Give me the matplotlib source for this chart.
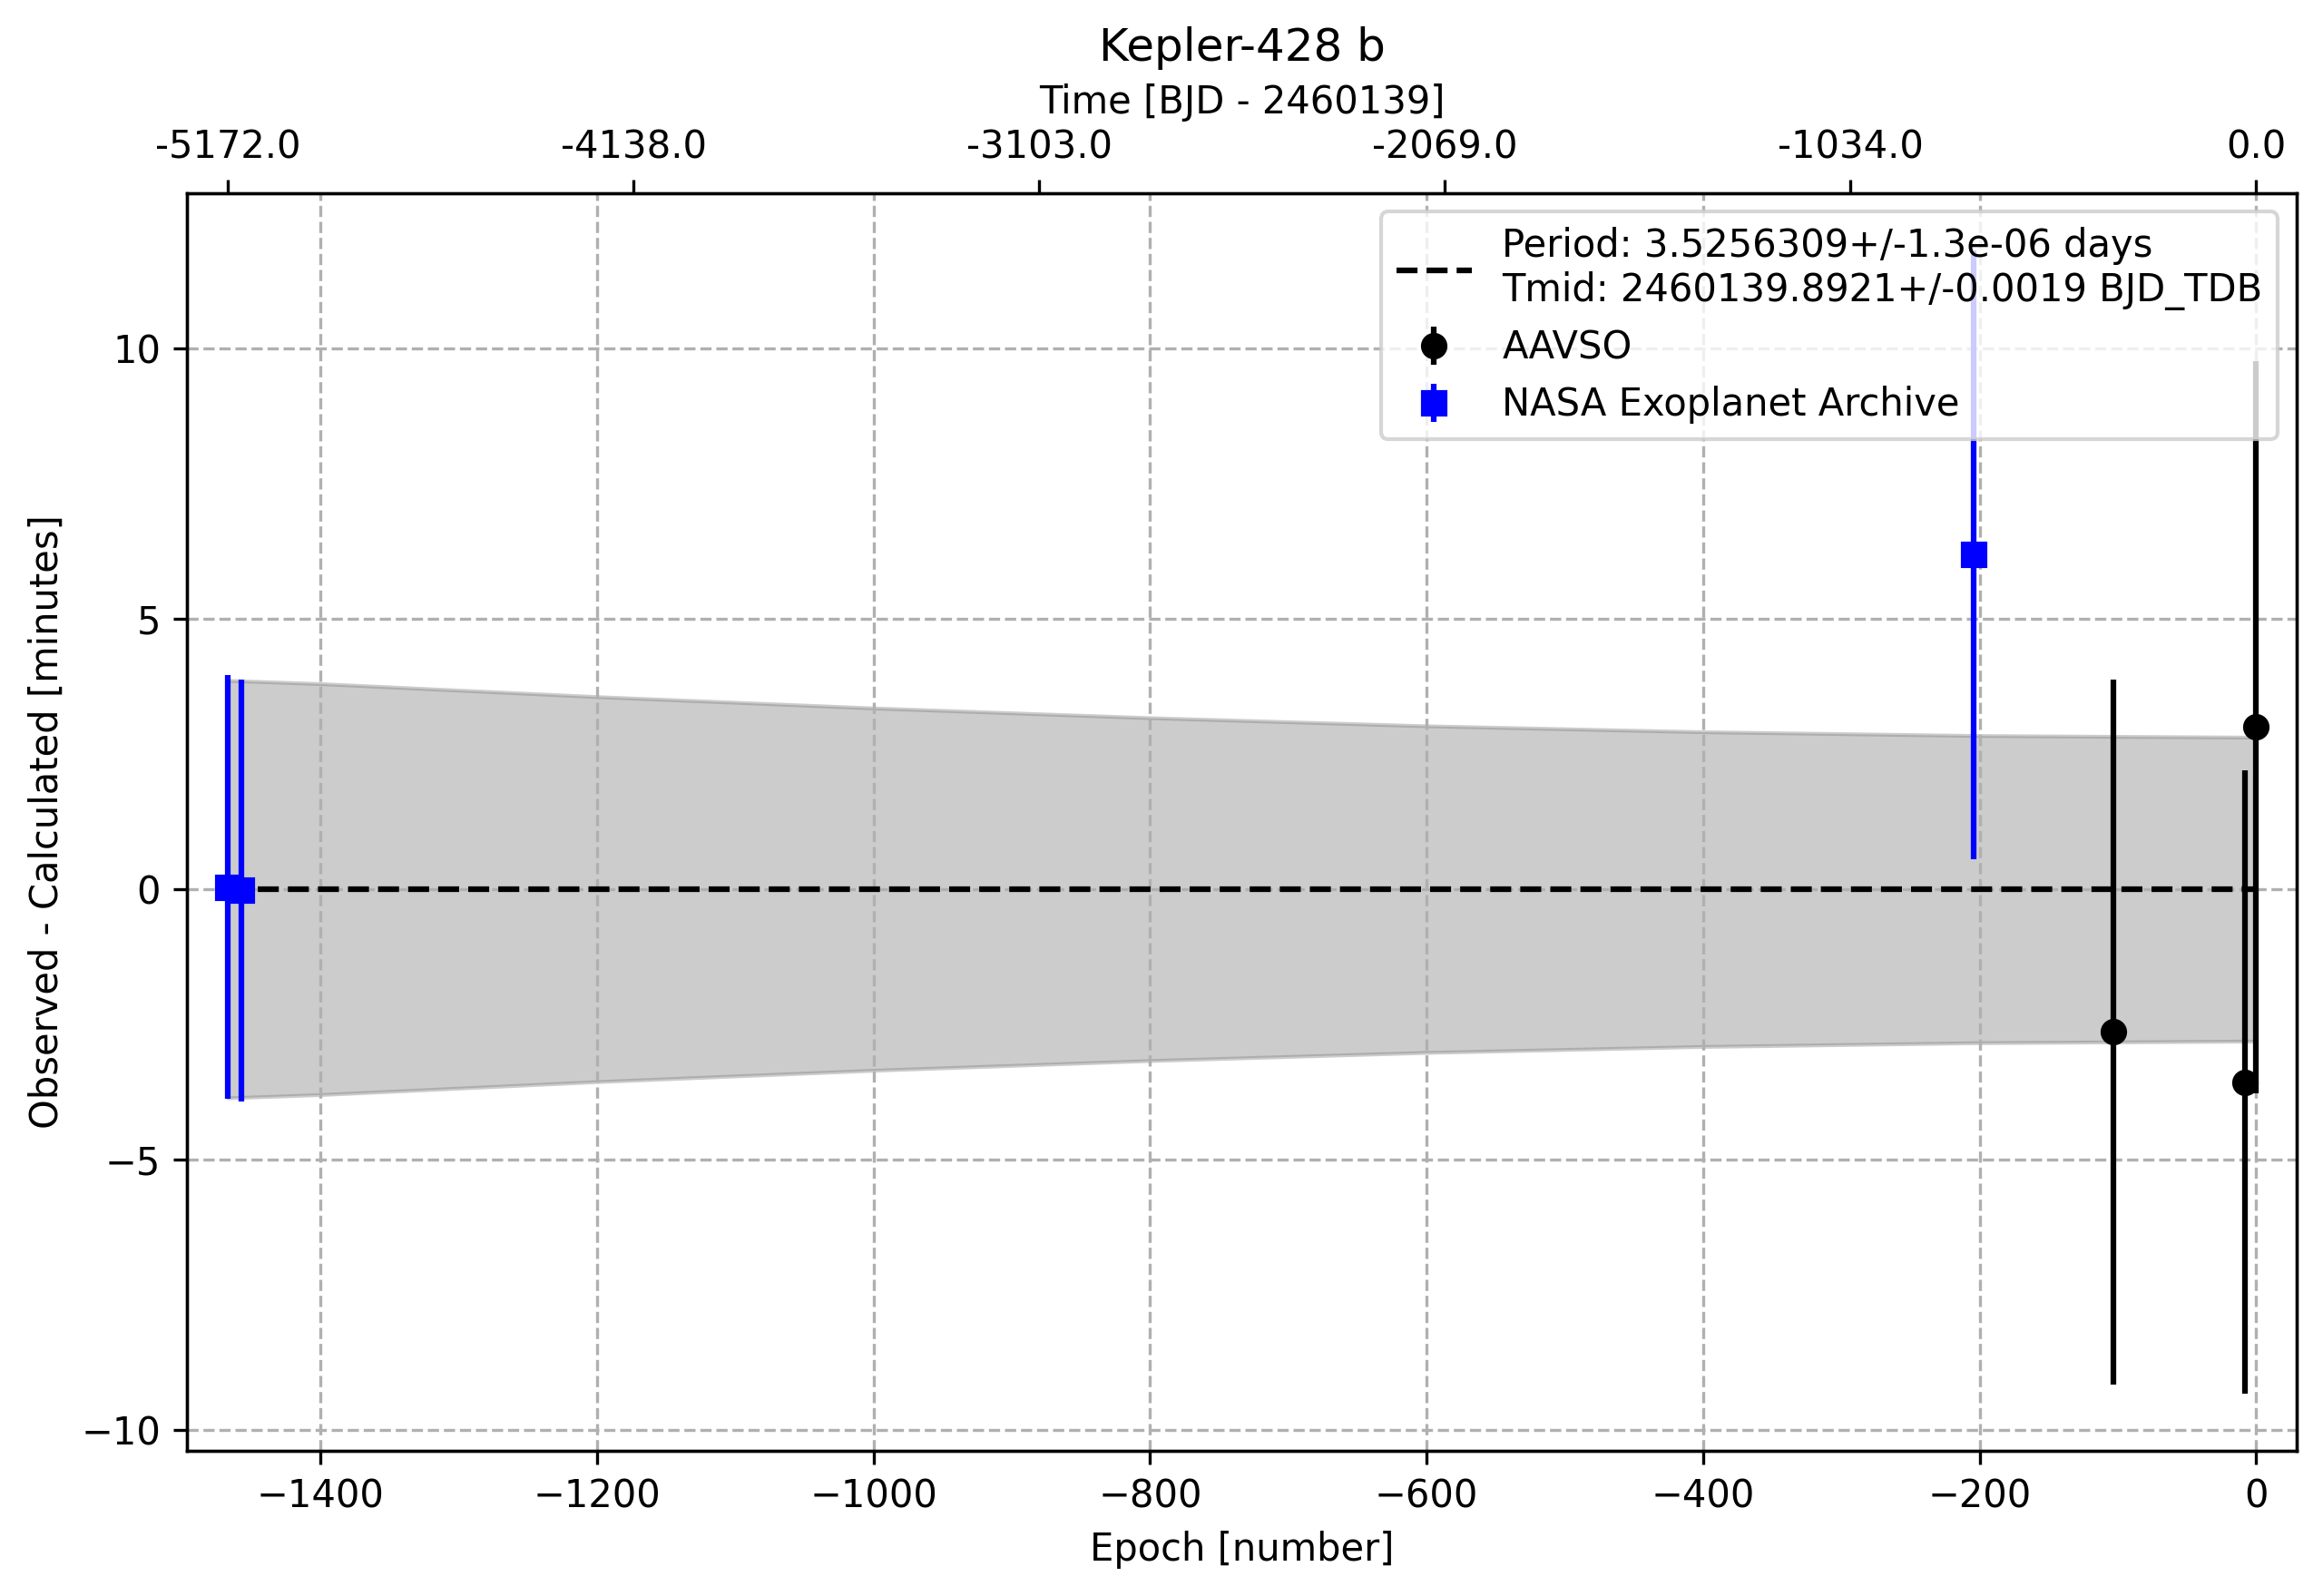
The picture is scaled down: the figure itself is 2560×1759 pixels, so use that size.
import numpy as np
import matplotlib
matplotlib.use("Agg")
import matplotlib.pyplot as plt

# ---- data ----
aavso_epoch = [-103, -8, 0]
aavso_oc = [-2.64, -3.57, 3.00]
aavso_err = [6.52, 5.76, 6.77]

nasa_epoch = [-1467, -1457, -204]
nasa_oc = [0.04, -0.02, 6.19]
nasa_err = [3.92, 3.90, 5.63]

band_epoch = [-1467, -1400, -1200, -1000, -800, -600, -400, -200, 0]
band_half = [3.86, 3.80, 3.56, 3.35, 3.17, 3.02, 2.91, 2.84, 2.81]

fit_epoch = [-1467, 0]
fit_oc = [0, 0]

top_tick_epochs = [-1467, -1173.6, -880.2, -586.8, -293.4, 0]
top_tick_labels = ['-5172.0', '-4138.0', '-3103.0', '-2069.0', '-1034.0', '0.0']

fit_label = "Period: 3.5256309+/-1.3e-06 days\nTmid: 2460139.8921+/-0.0019 BJD_TDB"

# ---- figure ----
fig = plt.figure(figsize=(2560 / 300, 1759 / 300), dpi=300)
ax = fig.add_subplot(111)
fig.subplots_adjust(left=206.3 / 2560, right=2531 / 2560,
                    bottom=1 - 1599 / 1759, top=1 - 212.5 / 1759)

be = np.array(band_epoch)
bh = np.array(band_half)
ax.fill_between(be, -bh, bh, color='gray', alpha=0.4)

ax.errorbar(aavso_epoch, aavso_oc, yerr=aavso_err, fmt='ko', label='AAVSO')
ax.errorbar(nasa_epoch, nasa_oc, yerr=nasa_err, fmt='bs', label='NASA Exoplanet Archive')
ax.plot(fit_epoch, fit_oc, 'k--', label=fit_label)

ax.set_xlim(-1496.3, 29.3)
ax.set_xlabel('Epoch [number]')
ax.set_ylabel('Observed - Calculated [minutes]')
ax.grid(True, linestyle='--')
ax.legend(loc='upper right')

ax2 = ax.twiny()
ax2.set_xlim(ax.get_xlim())
ax2.set_xticks(top_tick_epochs)
ax2.set_xticklabels(top_tick_labels)
ax2.set_xlabel('Time [BJD - 2460139]')
ax2.set_title('Kepler-428 b')

fig.savefig('out.png', dpi=300)
